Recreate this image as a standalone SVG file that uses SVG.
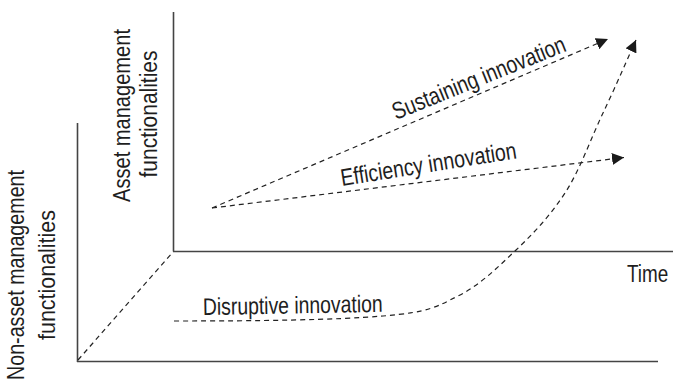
<svg xmlns="http://www.w3.org/2000/svg" width="673" height="383" viewBox="0 0 673 383">
  <style>
    .axis { stroke: #444; stroke-width: 1.6; fill: none; }
    .dash { stroke: #222; stroke-width: 1.2; fill: none; stroke-dasharray: 5 4; }
    .lbl { font-family: "Liberation Sans", Arial, sans-serif; font-size: 24px; fill: #1e1e1e; }
  </style>
  <defs>
    <marker id="arrow" viewBox="0 0 12 12" refX="12" refY="6" markerWidth="12" markerHeight="12" markerUnits="userSpaceOnUse" orient="auto">
      <path d="M0,0 L12,6 L0,12 z" fill="#1a1a1a"/>
    </marker>
  </defs>
  <rect width="673" height="383" fill="#fff"/>

  <!-- axes: front plane and back plane -->
  <g id="axes">
    <line class="axis" x1="173.5" y1="12" x2="173.5" y2="251.5"/>
    <line class="axis" x1="173" y1="251.5" x2="673" y2="251.5"/>
    <line class="axis" x1="77.5" y1="123" x2="77.5" y2="362"/>
    <line class="axis" x1="77" y1="361.5" x2="658" y2="361.5"/>
  </g>

  <!-- connectors -->
  <g id="connectors">
    <line class="dash" x1="78" y1="360" x2="173" y2="252"/>
    <line class="dash" x1="212" y1="208" x2="608" y2="39" marker-end="url(#arrow)"/>
    <line class="dash" x1="212" y1="208" x2="624" y2="157.5" marker-end="url(#arrow)"/>
    <path class="dash" d="M174,321 C260,321 336,320 383,316 C430,312 436,307 458,296 C480,285 497,268 515,251 C533,234 550,216 565,193 C580,170 591,138 603,113 C615,88 630,53 636,40" marker-end="url(#arrow)"/>
  </g>

  <!-- axis labels (condensed by horizontal scaling) -->
  <g id="asset-axis-label">
    <text class="lbl" text-anchor="middle" transform="translate(130,115.5) rotate(-90) scale(0.837,1)">Asset management</text>
    <text class="lbl" text-anchor="middle" transform="translate(157,114) rotate(-90) scale(0.873,1)">functionalities</text>
  </g>
  <g id="non-asset-axis-label">
    <text class="lbl" text-anchor="middle" transform="translate(24,275) rotate(-90) scale(0.82,1)">Non-asset management</text>
    <text class="lbl" text-anchor="middle" transform="translate(55,275) rotate(-90) scale(0.894,1)">functionalities</text>
  </g>
  <g id="time-label">
    <text class="lbl" transform="translate(627,282) scale(0.788,1)">Time</text>
  </g>

  <!-- innovation labels -->
  <g id="sustaining">
    <text class="lbl" transform="translate(396,120) rotate(-22) scale(0.811,1)">Sustaining innovation</text>
  </g>
  <g id="efficiency">
    <text class="lbl" transform="translate(342,186) rotate(-9) scale(0.814,1)">Efficiency innovation</text>
  </g>
  <g id="disruptive">
    <text class="lbl" transform="translate(203,315) rotate(-1) scale(0.808,1)">Disruptive innovation</text>
  </g>
</svg>
